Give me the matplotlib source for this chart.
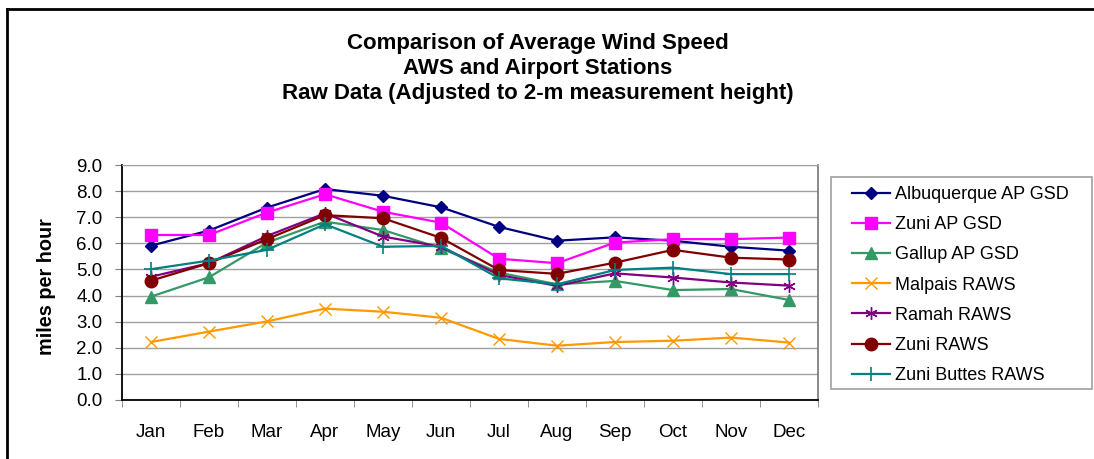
import matplotlib.pyplot as plt
from matplotlib.lines import Line2D
from matplotlib.patches import Rectangle

months = ['Jan', 'Feb', 'Mar', 'Apr', 'May', 'Jun',
          'Jul', 'Aug', 'Sep', 'Oct', 'Nov', 'Dec']

albuquerque = [5.91, 6.49, 7.37, 8.08, 7.82, 7.38, 6.63, 6.10, 6.23, 6.10, 5.87, 5.72]
zuni_ap = [6.32, 6.32, 7.18, 7.88, 7.21, 6.79, 5.41, 5.24, 6.03, 6.16, 6.16, 6.22]
gallup = [3.96, 4.70, 6.03, 6.83, 6.51, 5.81, 4.88, 4.43, 4.56, 4.21, 4.25, 3.83]
malpais = [2.22, 2.62, 3.01, 3.50, 3.38, 3.15, 2.34, 2.08, 2.22, 2.27, 2.39, 2.20]
ramah = [4.72, 5.24, 6.28, 7.15, 6.26, 5.87, 4.79, 4.37, 4.85, 4.69, 4.50, 4.38]
zuni_raws = [4.57, 5.24, 6.16, 7.08, 6.96, 6.21, 4.98, 4.83, 5.26, 5.75, 5.45, 5.38]
zuni_buttes = [5.01, 5.34, 5.75, 6.73, 5.87, 5.90, 4.66, 4.43, 4.98, 5.07, 4.82, 4.82]

series = [
    ('Albuquerque AP GSD', albuquerque, '#000080', 'D', 6, None),
    ('Zuni AP GSD', zuni_ap, '#FF00FF', 's', 8, None),
    ('Gallup AP GSD', gallup, '#339966', '^', 8, None),
    ('Malpais RAWS', malpais, '#FF9900', 'x', 8, 1.0),
    ('Ramah RAWS', ramah, '#800080', (6, 2, 0), 9, 1.0),
    ('Zuni RAWS', zuni_raws, '#800000', 'o', 9, None),
    ('Zuni Buttes RAWS', zuni_buttes, '#008080', '+', 10, 1.2),
]

plt.rcParams['font.family'] = ['Liberation Sans', 'DejaVu Sans']

W, H = 1094, 459
fig = plt.figure(figsize=(W / 100, H / 100), dpi=100)

# outer chart border (left and top visible)
fig.add_artist(Line2D([7 / W, 7 / W], [0, 1 - 9 / H], transform=fig.transFigure,
                      color='black', lw=2))
fig.add_artist(Line2D([7 / W, 1], [1 - 9 / H, 1 - 9 / H], transform=fig.transFigure,
                      color='black', lw=2))

left, right, top, bottom = 122, 818, 165, 400
ax = fig.add_axes([left / W, 1 - bottom / H, (right - left) / W, (bottom - top) / H])

x = list(range(len(months)))
for name, vals, color, marker, ms, mew in series:
    kw = dict(color=color, marker=marker, markersize=ms, lw=1.6, label=name,
              markerfacecolor=color, markeredgecolor=color)
    if mew is not None:
        kw['markeredgewidth'] = mew
    ax.plot(x, vals, **kw)

ax.set_xlim(-0.5, 11.5)
ax.set_ylim(0, 9)
ax.set_yticks([i for i in range(10)])
ax.set_yticklabels([f'{i:.1f}' for i in range(10)])
ax.set_xticks(x)
ax.set_xticklabels(months)
ax.set_xticks([i - 0.5 for i in range(13)], minor=True)
ax.tick_params(axis='x', which='major', length=0, pad=17, labelsize=13.5)
ax.tick_params(axis='x', which='minor', length=5, color='#808080', direction='out')
ax.tick_params(axis='y', length=5, color='#808080', direction='out', labelsize=13.5, pad=9)
ax.grid(axis='y', color='#A0A0A0', lw=1)
ax.set_axisbelow(True)
ax.spines['left'].set_color('black')
ax.spines['bottom'].set_color('black')
ax.spines['left'].set_linewidth(1.3)
ax.spines['bottom'].set_linewidth(1.3)
ax.spines['top'].set_color('#A0A0A0')
ax.spines['right'].set_color('#808080')
ax.spines['right'].set_linewidth(1.3)

fig.text(47 / W, 1 - 287 / H, 'miles per hour', rotation=90, ha='center', va='center',
         fontsize=14.3, fontweight='bold')

title_lines = ['Comparison of Average Wind Speed',
               'AWS and Airport Stations',
               'Raw Data (Adjusted to 2-m measurement height)']
for i, t in enumerate(title_lines):
    fig.text(538 / W, 1 - (43 + 25.5 * i) / H, t, ha='center', va='center',
             fontsize=16, fontweight='bold')

# legend frame drawn separately so its padding matches
fig.add_artist(Rectangle((831 / W, 1 - 389 / H), (1092 - 831) / W, (389 - 177) / H,
                         transform=fig.transFigure, fill=False,
                         edgecolor='#A0A0A0', lw=1.2))
leg = ax.legend(loc='upper left', bbox_to_anchor=(852 / W, 1 - 186 / H),
                bbox_transform=fig.transFigure, frameon=False, fontsize=13,
                handlelength=2.1, labelspacing=0.73, borderpad=0,
                handletextpad=0.3, borderaxespad=0)

fig.savefig('out.png', dpi=100)
